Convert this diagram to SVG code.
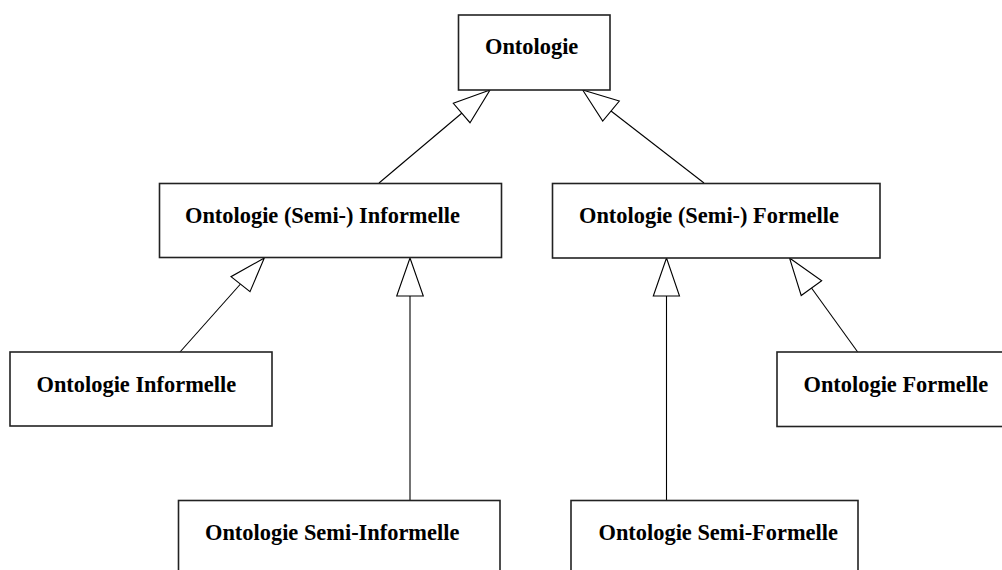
<svg xmlns="http://www.w3.org/2000/svg" width="1002" height="570" viewBox="0 0 1002 570">
<style>
.box{fill:#fff;stroke:#222;stroke-width:1.6}
.lbl{font-family:"Liberation Serif","Times New Roman",serif;font-weight:bold;font-size:22.4px;fill:#000}
.ln{stroke:#000;stroke-width:1.1;fill:none}
.hd{fill:#fff;stroke:#000;stroke-width:1.1}
</style>
<rect width="1002" height="570" fill="#fff"/>
<g id="connectors">
<line class="ln" x1="462" y1="113" x2="379" y2="183"/>
<polygon class="hd" points="490,90 453.3,103.3 470,122.7"/>
<line class="ln" x1="611" y1="111" x2="704" y2="183"/>
<polygon class="hd" points="582.7,90 619.3,101 602.7,121"/>
<line class="ln" x1="240.5" y1="284" x2="180" y2="352"/>
<polygon class="hd" points="264.3,258 231,276.7 250,291.7"/>
<line class="ln" x1="410" y1="296" x2="410" y2="500"/>
<polygon class="hd" points="410,258 396.7,296 423.3,296"/>
<line class="ln" x1="666.5" y1="296" x2="666.5" y2="500"/>
<polygon class="hd" points="666.5,258 653.3,296 679.5,296"/>
<line class="ln" x1="811.5" y1="288" x2="857.7" y2="352"/>
<polygon class="hd" points="789.5,258 821.7,280.8 801.2,295.5"/>
</g>
<g id="n-ontologie">
<rect class="box" x="458.5" y="15" width="151.5" height="75"/>
<text class="lbl" x="485" y="54">Ontologie</text>
</g>
<g id="n-semi-informelle-group">
<rect class="box" x="159.5" y="183.5" width="342" height="74"/>
<text class="lbl" x="185" y="223">Ontologie (Semi-) Informelle</text>
</g>
<g id="n-semi-formelle-group">
<rect class="box" x="552.5" y="183.5" width="327.5" height="74.5"/>
<text class="lbl" x="579" y="223">Ontologie (Semi-) Formelle</text>
</g>
<g id="n-informelle">
<rect class="box" x="10" y="352" width="262" height="74"/>
<text class="lbl" x="36.5" y="392">Ontologie Informelle</text>
</g>
<g id="n-formelle">
<rect class="box" x="777" y="352" width="230" height="74.5"/>
<text class="lbl" x="803.5" y="392">Ontologie Formelle</text>
</g>
<g id="n-semi-informelle">
<rect class="box" x="178.5" y="500.5" width="321.5" height="80"/>
<text class="lbl" x="205" y="540">Ontologie Semi-Informelle</text>
</g>
<g id="n-semi-formelle">
<rect class="box" x="571" y="500.5" width="287" height="80"/>
<text class="lbl" x="598.5" y="540">Ontologie Semi-Formelle</text>
</g>
</svg>
